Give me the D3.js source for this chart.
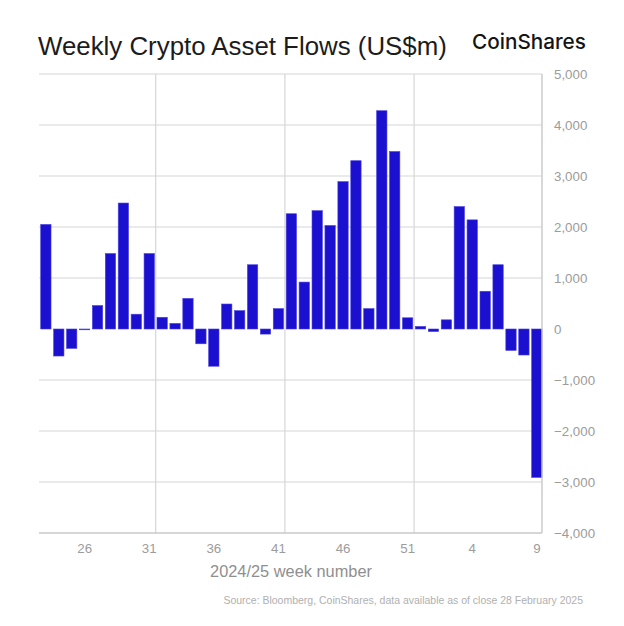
<!DOCTYPE html>
<html>
<head>
<meta charset="utf-8">
<script src="https://cdn.jsdelivr.net/npm/d3@7"></script>
<style>
  html, body { margin: 0; padding: 0; background: #fff; }
  svg { display: block; }
</style>
</head>
<body>
<svg id="chart" width="624" height="626"></svg>
<script>
// ---- data ----
const weeks = ["23","24","25","26","27","28","29","30","31","32","33","34","35","36","37","38","39","40","41","42","43","44","45","46","47","48","49","50","51","52","1","2","3","4","5","6","7","8","9"];
const flows = [2050,-530,-380,-12,460,1480,2470,290,1480,230,110,600,-290,-730,490,360,1260,-100,400,2260,920,2320,2030,2890,3300,400,4280,3480,220,50,-50,180,2400,2140,740,1260,-420,-510,-2910];
const xTickLabels = ["26","31","36","41","46","51","4","9"];
const gridAfterWeeks = ["31","41","51"];
const yTicks = [5000,4000,3000,2000,1000,0,-1000,-2000,-3000,-4000];
const yDomain = [-4000, 5000];
const title = "Weekly Crypto Asset Flows (US$m)";
const brand = "CoinShares";
const xTitle = "2024/25 week number";
const source = "Source: Bloomberg, CoinShares, data available as of close 28 February 2025";

// ---- layout ----
const svg = d3.select("#chart");
const plotLeft = 39, plotRight = 542, plotTop = 74, plotBottom = 533;

const x = d3.scaleBand().domain(weeks).range([40.7, 542]).paddingInner(0.2).paddingOuter(0);
const y = d3.scaleLinear().domain(yDomain).range([plotBottom, plotTop]);
const gap = x.step() - x.bandwidth();

function fitText(sel, target) {
  const node = sel.node();
  let fs = parseFloat(sel.attr("font-size"));
  for (let i = 0; i < 4; i++) {
    const w = node.getComputedTextLength();
    if (w > 0) { fs = fs * target / w; sel.attr("font-size", fs); }
  }
}

// horizontal gridlines (no zero line)
svg.append("g").selectAll("line")
  .data(yTicks.filter(d => d !== 0 && d !== yDomain[0]))
  .join("line")
  .attr("x1", plotLeft).attr("x2", plotRight)
  .attr("y1", d => y(d)).attr("y2", d => y(d))
  .attr("stroke", "#d6d6d6").attr("stroke-width", 1.2);

// vertical gridlines
svg.append("g").selectAll("line")
  .data(gridAfterWeeks)
  .join("line")
  .attr("x1", d => x(d) + x.bandwidth() + gap / 2)
  .attr("x2", d => x(d) + x.bandwidth() + gap / 2)
  .attr("y1", plotTop).attr("y2", plotBottom)
  .attr("stroke", "#d6d6d6").attr("stroke-width", 1.2);

// bars
svg.append("g").selectAll("rect")
  .data(weeks.map((w, i) => ({ w, v: flows[i] })))
  .join("rect")
  .attr("x", d => x(d.w))
  .attr("width", x.bandwidth())
  .attr("y", d => y(Math.max(0, d.v)))
  .attr("height", d => Math.max(0.8, Math.abs(y(d.v) - y(0))))
  .attr("fill", "#1b10d0")
  .attr("stroke", "#4a42e0")
  .attr("stroke-width", 0.6);

// bottom axis line and right axis line
svg.append("line")
  .attr("x1", plotLeft).attr("x2", plotRight)
  .attr("y1", y(yDomain[0])).attr("y2", y(yDomain[0]))
  .attr("stroke", "#c8c8c8").attr("stroke-width", 1.4);
svg.append("line")
  .attr("x1", plotRight).attr("x2", plotRight)
  .attr("y1", plotTop).attr("y2", plotBottom)
  .attr("stroke", "#c8c8c8").attr("stroke-width", 1.4);

// right y axis labels
const yAxis = d3.axisRight(y).tickValues(yTicks).tickSize(0).tickPadding(0)
  .tickFormat(d3.format(","));
const gy = svg.append("g").attr("transform", `translate(554,0)`).call(yAxis);
gy.select(".domain").remove();
gy.selectAll("text")
  .attr("font-family", "'Liberation Sans', Arial, sans-serif")
  .attr("font-size", 13.3)
  .attr("fill", "#9c9c9c");

// bottom x axis labels
const xAxis = d3.axisBottom(x).tickValues(xTickLabels).tickSize(0).tickPadding(0);
const gx = svg.append("g").attr("transform", `translate(0,544)`).call(xAxis);
gx.select(".domain").remove();
gx.selectAll("text")
  .attr("dy", "0.71em")
  .attr("font-family", "'Liberation Sans', Arial, sans-serif")
  .attr("font-size", 13.3)
  .attr("fill", "#9c9c9c");

// x axis title
const xt = svg.append("text")
  .attr("x", 291).attr("y", 576.5)
  .attr("text-anchor", "middle")
  .attr("font-family", "'Liberation Sans', Arial, sans-serif")
  .attr("font-size", 16)
  .attr("fill", "#8f8f8f")
  .text(xTitle);
fitText(xt, 162);

// title
const tt = svg.append("text")
  .attr("x", 38).attr("y", 54.5)
  .attr("font-family", "'Liberation Sans', Arial, sans-serif")
  .attr("font-size", 24)
  .attr("fill", "#1c1c1c")
  .text(title);
fitText(tt, 409);

// brand
const bt = svg.append("text")
  .attr("x", 472).attr("y", 48.5)
  .attr("font-family", "Inter, 'Open Sans', sans-serif")
  .attr("font-weight", 500)
  .attr("font-size", 20)
  .attr("fill", "#141414")
  .text(brand);
fitText(bt, 114);

// source
const st = svg.append("text")
  .attr("x", 583).attr("y", 604)
  .attr("text-anchor", "end")
  .attr("font-family", "'Liberation Sans', Arial, sans-serif")
  .attr("font-size", 10.5)
  .attr("fill", "#b0b0b0")
  .text(source);
fitText(st, 360);
</script>
</body>
</html>
